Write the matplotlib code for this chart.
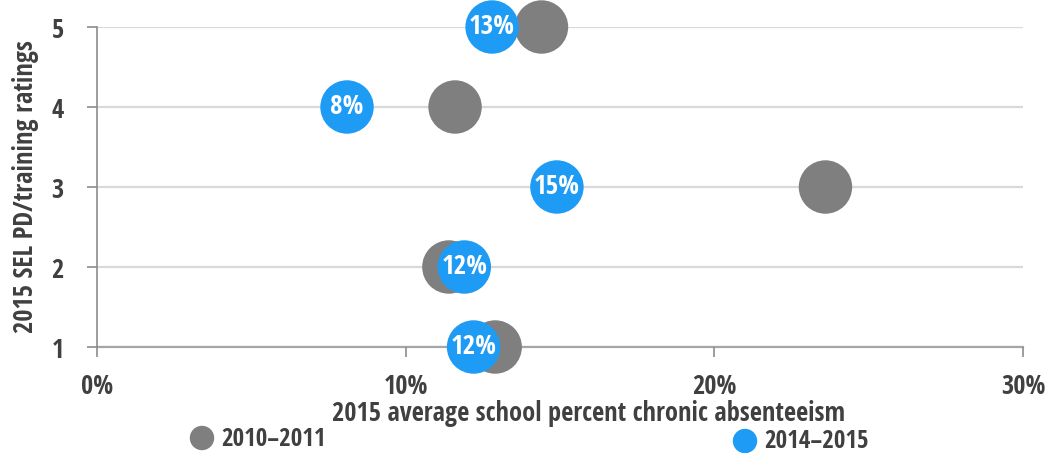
import matplotlib
matplotlib.use("Agg")
import matplotlib.pyplot as plt
from matplotlib.patches import Ellipse

# Data
ratings = [5, 4, 3, 2, 1]
absent_2010 = [14.4, 11.6, 23.6, 11.4, 12.9]
absent_2014 = [12.8, 8.1, 14.9, 11.9, 12.2]
labels_2014 = ["13%", "8%", "15%", "12%", "12%"]
series_names = ["2010\u20132011", "2014\u20132015"]
x_ticks = [0, 10, 20, 30]
x_tick_labels = ["0%", "10%", "20%", "30%"]
y_ticks = [1, 2, 3, 4, 5]

GRAY = "#7f7f7f"
BLUE = "#1e9bf5"
TEXT = "#404040"

plt.rcParams["font.family"] = ["Open Sans Condensed", "DejaVu Sans"]
plt.rcParams["font.weight"] = "bold"

fig = plt.figure(figsize=(10.48, 4.53), dpi=100)
ax = fig.add_axes([97 / 1048, 1 - 347 / 453, (1023 - 97) / 1048, (347 - 27) / 453])

ax.set_xlim(0, 30)
ax.set_ylim(1, 5)

for y in y_ticks:
    ax.axhline(y, color="#d9d9d9", lw=1.6, zorder=0)

size = 1480
ax.scatter(absent_2010, ratings, s=size, color=GRAY, edgecolors="none", zorder=3, clip_on=False)
ax.scatter(absent_2014, ratings, s=size, color=BLUE, edgecolors="none", zorder=4, clip_on=False)
for x, y, t in zip(absent_2014, ratings, labels_2014):
    ax.text(x, y, t, ha="center", va="center", color="white", fontsize=19.5,
            fontweight="bold", zorder=5)

for side in ["top", "right"]:
    ax.spines[side].set_visible(False)
ax.spines["left"].set_color("#8c8c8c")
ax.spines["bottom"].set_color("#a6a6a6")
ax.spines["left"].set_linewidth(1.2)
ax.spines["bottom"].set_linewidth(1.6)
ax.spines["bottom"].set_zorder(1)

ax.set_xticks(x_ticks)
ax.set_xticklabels(x_tick_labels)
ax.set_yticks(y_ticks)
ax.tick_params(axis="x", length=7, width=1.2, color="#8c8c8c", pad=12,
               labelsize=19, labelcolor=TEXT)
ax.tick_params(axis="y", length=7, width=1.2, color="#8c8c8c", pad=17,
               labelsize=19, labelcolor=TEXT)

ax.set_xlabel("2015 average school percent chronic absenteeism", fontsize=19,
              color=TEXT, fontweight="bold", labelpad=0)
ax.xaxis.label.set_x(0.531)
ax.set_ylabel("2015 SEL PD/training ratings", fontsize=19, color=TEXT,
              fontweight="bold", labelpad=9)

# Legend entries
legend_items = [(202, 438, series_names[0], GRAY), (745, 441, series_names[1], BLUE)]
for px, py, name, col in legend_items:
    fx, fy = px / 1048, 1 - py / 453
    fig.add_artist(Ellipse((fx, fy), 23 / 1048, 23 / 453, color=col,
                           transform=fig.transFigure, clip_on=False))
    fig.text(fx + 19 / 1048, fy - 1 / 453, name, ha="left", va="center", fontsize=18,
             color=TEXT, fontweight="bold")

fig.savefig("out.png", dpi=100)
